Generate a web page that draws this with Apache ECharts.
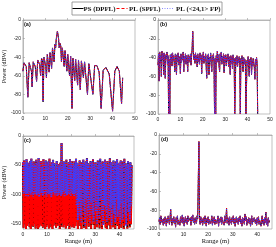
<!DOCTYPE html>
<html><head><meta charset="utf-8">
<script src="https://cdn.jsdelivr.net/npm/echarts@6/dist/echarts.min.js"></script>
<style>html,body{margin:0;padding:0;background:#fff}#c{width:276px;height:247px}</style>
</head><body><div id="c"></div>
<script>
const seriesNames = ['PS (DPFL)', 'PL (SPFL)', 'PL (<24,1> FP)'];
const panelLabels = ['(a)', '(b)', '(c)', '(d)'];
const xTicksAB = [0, 10, 20, 30, 40, 50];
const xTicksCD = [0, 10, 20, 30, 40];
const yTicksC = [0, -50, -100, -150];

// Panel (a): range samples and power (dBW)
const rangeA = [0,0.5,1.0,1.5,2.2,2.8,3.3,3.8,4.1,4.6,5.1,5.5,6.1,6.6,7.1,7.5,7.9,8.3,8.7,9.0,9.4,9.8,10.2,10.5,10.9,11.3,11.7,12.1,12.5,12.8,13.2,13.5,13.9,14.3,14.6,14.9,15.4,15.9,16.2,16.5,16.9,17.2,17.6,18.0,18.4,18.8,19.2,19.6,20.0,20.4,20.8,21.3,21.6,21.9,22.3,22.7,23.1,23.5,24.0,24.4,24.8,25.2,25.6,26.1,26.6,27.0,27.5,28.0,28.8,29.4,30.2,31.2,32.0,33.0,34.0,34.9,35.8,37.0,38.5,40.0,41.0,42.0,43.0,44.0,44.5];
const powerA = [-55,-46,-45,-50,-83,-46,-45,-55,-72,-45,-44,-50,-66,-43,-42,-48,-60,-41,-44,-88,-40,-39,-50,-62,-37,-38,-56,-35,-34,-52,-30,-30,-45,-26,-30,-20,-12,-20,-30,-25,-28,-45,-30,-32,-50,-33,-35,-55,-37,-38,-60,-39,-41,-95,-41,-42,-65,-42,-43,-70,-43,-44,-75,-44,-45,-62,-45,-46,-80,-47,-48,-80,-49,-49,-56,-95,-54,-51,-58,-98,-55,-50,-55,-90,-62];

// Panels (b)-(d): one sample per range bin
const rangeStep = 0.25;
const powerB = [
 -48,-36,-65,-34, -45,-38,-60,-33, -42,-36,-58,-35, -44,-62,-37,-41, -34,-47,-38,-100,
 -42,-100,-37,-44, -36,-49,-35,-43, -38,-46,-55,-36, -41,-58,-37,-44, -35,-48,-39,-43,
 -57,-36,-45,-38, -42,-34,-55,-39, -44,-36,-47,-38, -42,-55,-37,-45, -39,-43,-36,-48,
 -38,-30,-12,-32, -42,-37,-46,-35, -43,-38,-50,-36, -44,-39,-47,-35, -42,-38,-57,-37,
 -44,-34,-46,-39, -43,-36,-48,-62, -38,-45,-36,-58, -40,-44,-35,-47, -55,-38,-43,-36,
 -46,-100,-41,-100, -38,-45,-33,-44, -37,-48,-55,-36, -43,-34,-47,-39, -42,-36,-56,-38,
 -45,-37,-49,-40, -43,-36,-50,-39, -44,-58,-38,-46, -40,-52,-37,-45, -41,-100,-100,-40,
 -47,-38,-50,-42, -45,-39,-48,-100, -41,-46,-38,-50, -55,-40,-47,-42, -45,-100,-100,-43,
 -48,-39,-52,-60, -42,-47,-40,-58, -44,-49,-41,-46, -50,-63,-42,-48, -40,-46,-100
];
// Panel (c): peaks (even bins) and troughs (odd bins)
const powerCTop = [
 -45,-42,-48,-40,-46,-52,-43,-39,-47,-44, -50,-41,-45,-38,-48,-43,-53,-40,-46,-42,
 -49,-44,-39,-51,-45,-41,-47,-55,-43,-48, -52,-46,-12,-50,-44,-48,-41,-53,-45,-40,
 -47,-43,-50,-44,-39,-46,-52,-42,-48,-45, -41,-49,-44,-38,-47,-51,-43,-46,-40,-48,
 -45,-53,-42,-47,-39,-50,-44,-46,-41,-52, -43,-48,-38,-45,-51,-42,-47,-44,-40,-49,
 -46,-42,-50,-44,-39,-47,-53,-43,-48,-45, -50
];
const powerCLowSP = [
 -158,-152,-160,-155,-150,-157,-160,-153,-156,-151, -159,-154,-160,-157,-152,-155,-158,-150,-160,-156,
 -153,-159,-151,-157,-160,-154,-149,-158,-155,-152, -160,-156,-150,-157,-153,-159,-155,-151,-160,-154,
 -157,-152,-158,-155,
 -148,-160,-142,-155,-160,-145,-158,-150,-160,-143, -156,-149,-160,-146,-153,-160,-141,-157,-151,-159,
 -144,-160,-152,-147,-158,-160,-145,-154,-160,-148, -157,-143,-160,-151,-155,-160,-146,-158,-149,-160,
 -153,-144,-159,-150,-157,-152
];
const powerCLowFP = [
 -100,-97,-103,-99,-105,-98,-101,-96,-104,-100, -99,-102,-97,-105,-101,-98,-103,-100,-96,-104,
 -99,-101,-98,-105,-100,-97,-102,-99,-104,-101, -98,-103,-100,-96,-105,-99,-102,-98,-101,-104,
 -97,-100,-103,-99,
 -120,-145,-112,-138,-150,-118,-132,-155,-109,-140, -126,-150,-115,-135,-147,-111,-130,-152,-122,-143,
 -108,-137,-154,-119,-128,-148,-114,-141,-125,-153, -117,-134,-149,-110,-139,-127,-151,-116,-144,-123,
 -136,-155,-113,-131,-146,-121
];
const powerD = [
 -92,-88,-95,-86, -84,-93,-90,-96, -89,-94,-87,-91, -97,-89,-93,-86, -90,-95,-88,-79,
 -92,-96,-89,-93, -87,-94,-90,-98, -88,-92,-86,-95, -91,-89,-96,-87, -93,-90,-85,-94,
 -88,-97,-91,-87, -93,-89,-95,-86, -92,-90,-94,-88, -96,-87,-91,-85, -93,-89,-95,-88,
 -90,-94,-86,-89, -88,-7,-90,-95, -87,-93,-89,-96, -91,-88,-94,-86, -92,-97,-89,-93,
 -87,-95,-90,-88, -94,-91,-86,-96, -89,-93,-87,-95, -90,-88,-94,-92, -86,-97,-89,-93,
 -91,-87,-95,-88, -92,-90,-96,-86, -93,-89,-78,-94, -88,-91,-96,-87, -93,-90,-95,-88,
 -92,-86,-94,-89, -97,-91,-87,-93, -89,-95,-88,-92, -86,-94,-90,-97, -88,-93,-89,-95,
 -84,-91,-87,-96, -90,-93,-88,-94, -89,-97,-91,-86, -95,-89,-92,-88, -86,-94,-90,-96,
 -88,-93,-87,-95, -91,-89,-97,-92, -86,-94,-90,-96, -88,-93,-82,-95, -90,-97,-88,-93, -91
];

function pairs(xs, ys) { return xs.map((x, i) => [x, ys[i]]); }
function binned(ys) { return ys.map((y, i) => [i * rangeStep, y]); }
function interleave(tops, lows) {
  const out = [];
  for (let i = 0; i < tops.length; i++) { out.push(tops[i]); if (i < lows.length) out.push(lows[i]); }
  return out;
}

const lineStyles = [
  { color: '#000000', type: 'solid', width: 1 },
  { color: '#ff0000', type: [3, 1.5], width: 1 },
  { color: '#3c3cff', type: [1, 1.5], width: 1 }
];

const panelData = [
  [pairs(rangeA, powerA), pairs(rangeA, powerA), pairs(rangeA, powerA)],
  [binned(powerB), binned(powerB), binned(powerB)],
  [binned(interleave(powerCTop, powerCLowSP)), binned(interleave(powerCTop, powerCLowSP)), binned(interleave(powerCTop, powerCLowFP))],
  [binned(powerD), binned(powerD), binned(powerD)]
];
const panelWidth = [1, 1, 1.9, 1];

const grids = [
  { left: 22, top: 20, width: 113, height: 93 },
  { left: 158, top: 20, width: 112, height: 94 },
  { left: 22, top: 136, width: 112, height: 93 },
  { left: 159, top: 135, width: 113, height: 94 }
].map(g => Object.assign({ show: true, borderColor: '#999', borderWidth: 0.6, backgroundColor: '#fff' }, g));

const labelFont = { fontFamily: 'Liberation Sans', fontSize: 5, color: '#222' };
const axisLineGray = { show: true, lineStyle: { color: '#999', width: 0.6 } };
const tickIn = { show: true, inside: true, length: 2, lineStyle: { color: '#999', width: 0.6 } };

function xAxis(i) {
  const cd = i >= 2;
  const ax = {
    type: 'value', gridIndex: i, min: 0, max: cd ? 46 : 50,
    axisLine: axisLineGray, splitLine: { show: false },
    axisTick: Object.assign({}, tickIn), axisLabel: Object.assign({ margin: 3 }, labelFont)
  };
  if (cd) {
    ax.axisLabel.customValues = xTicksCD;
    ax.axisTick.customValues = xTicksCD;
    ax.name = 'Range (m)'; ax.nameLocation = 'middle'; ax.nameGap = 9;
    ax.nameTextStyle = { fontFamily: 'Liberation Serif', fontSize: 6.5, color: '#111' };
  } else {
    ax.interval = 10;
    ax.axisLabel.customValues = xTicksAB;
  }
  return ax;
}
function yAxis(i) {
  const ax = {
    type: 'value', gridIndex: i, max: 0,
    axisLine: axisLineGray, splitLine: { show: false },
    axisTick: Object.assign({}, tickIn), axisLabel: Object.assign({ margin: 2 }, labelFont)
  };
  if (i === 2) {
    ax.min = -160;
    ax.axisLabel.customValues = yTicksC;
    ax.axisTick.customValues = yTicksC;
  } else { ax.min = -100; ax.interval = 20; }
  if (i === 0 || i === 2) {
    ax.name = 'Power (dBW)'; ax.nameLocation = 'middle'; ax.nameGap = 13;
    ax.nameTextStyle = { fontFamily: 'Liberation Serif', fontSize: 6, color: '#111' };
  }
  return ax;
}

const series = [];
panelData.forEach((sets, p) => {
  sets.forEach((data, k) => {
    const ls = Object.assign({}, lineStyles[k], { width: panelWidth[p] });
    series.push({
      type: 'line', name: seriesNames[k], xAxisIndex: p, yAxisIndex: p,
      data: data, symbol: 'none', lineStyle: ls, itemStyle: { color: lineStyles[k].color },
      emphasis: { disabled: true }, silent: true
    });
  });
});

// Legend box drawn as graphic (line samples + text)
const legendX = [72.5, 116.5, 162];
const legendTextX = [83.5, 129, 176];
const legendGraphic = [{
  type: 'rect', shape: { x: 72, y: 2, width: 150, height: 13 },
  style: { fill: '#fff', stroke: '#888', lineWidth: 0.8 }, z: 100
}];
seriesNames.forEach((n, k) => {
  const dash = lineStyles[k].type === 'solid' ? null : (k === 1 ? [3, 2] : [1, 1.5]);
  legendGraphic.push({
    type: 'line', shape: { x1: legendX[k], y1: 8.5, x2: legendX[k] + 11, y2: 8.5 },
    style: { stroke: k === 2 ? '#8c8cff' : lineStyles[k].color, lineWidth: 1, lineDash: dash }, z: 101
  });
  legendGraphic.push({
    type: 'text', x: legendTextX[k], y: 9,
    style: { text: n, fill: '#111', font: 'bold 6.8px "Liberation Serif"', verticalAlign: 'middle', align: 'left' }, z: 101
  });
});

const labelPos = [[24, 21], [160, 21], [24, 137], [161, 136]];
const chart = echarts.init(document.getElementById('c'), null, { renderer: 'canvas' });
chart.setOption({
  animation: false,
  backgroundColor: '#fff',
  title: panelLabels.map((t, i) => ({
    text: t, left: labelPos[i][0], top: labelPos[i][1], padding: 0,
    textStyle: { fontFamily: 'Liberation Sans', fontSize: 5.5, fontWeight: 'bold', color: '#111' }
  })),
  graphic: legendGraphic,
  grid: grids,
  xAxis: [0, 1, 2, 3].map(xAxis),
  yAxis: [0, 1, 2, 3].map(yAxis),
  series: series
});
</script></body></html>
